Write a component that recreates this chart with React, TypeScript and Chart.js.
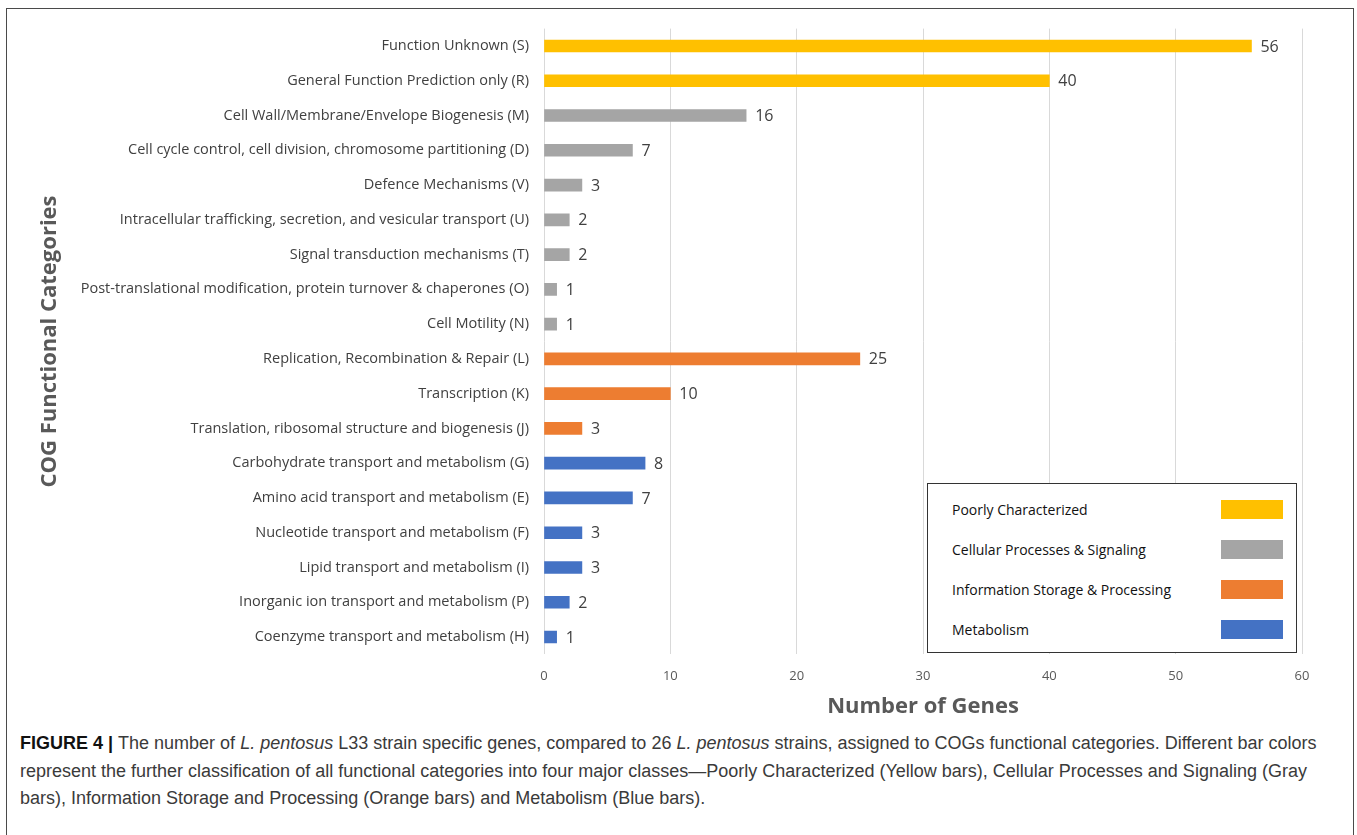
import React, { useEffect, useRef } from "react";
import { Chart, registerables } from "chart.js";

Chart.register(...registerables);

// COG functional categories, top to bottom
const categories = [
  "Function Unknown (S)",
  "General Function Prediction only (R)",
  "Cell Wall/Membrane/Envelope Biogenesis (M)",
  "Cell cycle control, cell division, chromosome partitioning (D)",
  "Defence Mechanisms (V)",
  "Intracellular trafficking, secretion, and vesicular transport (U)",
  "Signal transduction mechanisms (T)",
  "Post-translational modification, protein turnover & chaperones (O)",
  "Cell Motility (N)",
  "Replication, Recombination & Repair (L)",
  "Transcription (K)",
  "Translation, ribosomal structure and biogenesis (J)",
  "Carbohydrate transport and metabolism (G)",
  "Amino acid transport and metabolism (E)",
  "Nucleotide transport and metabolism (F)",
  "Lipid transport and metabolism (I)",
  "Inorganic ion transport and metabolism (P)",
  "Coenzyme transport and metabolism (H)",
];

// Number of strain specific genes in each category
const geneCounts = [56, 40, 16, 7, 3, 2, 2, 1, 1, 25, 10, 3, 8, 7, 3, 3, 2, 1];

// Major class of each category (index into classNames / classColors)
const classOf = [0, 0, 1, 1, 1, 1, 1, 1, 1, 2, 2, 2, 3, 3, 3, 3, 3, 3];

const classNames = [
  "Poorly Characterized",
  "Cellular Processes & Signaling",
  "Information Storage & Processing",
  "Metabolism",
];
const classColors = ["#FFC000", "#A5A5A5", "#ED7D31", "#4472C4"];

const xTicks = [0, 10, 20, 30, 40, 50, 60];

const valueLabels = {
  id: "valueLabels",
  afterDatasetsDraw(chart: any) {
    const ctx = chart.ctx;
    const meta = chart.getDatasetMeta(0);
    ctx.save();
    ctx.font = "16px 'Open Sans'";
    ctx.fillStyle = "#404040";
    ctx.textAlign = "left";
    ctx.textBaseline = "middle";
    meta.data.forEach((bar: any, i: number) => {
      ctx.fillText(String(chart.data.datasets[0].data[i]), bar.x + 9, bar.y + 1);
    });
    ctx.restore();
  },
};

function GeneChart() {
  const canvasRef = useRef<HTMLCanvasElement | null>(null);

  useEffect(() => {
    const canvas = canvasRef.current;
    if (!canvas) return;
    const chart = new Chart(canvas, {
      type: "bar",
      data: {
        labels: categories,
        datasets: [
          {
            data: geneCounts,
            backgroundColor: classOf.map((c) => classColors[c]),
            barThickness: 12,
          },
        ],
      },
      options: {
        indexAxis: "y",
        responsive: false,
        animation: false,
        layout: { padding: { left: 30, top: 28.6, right: 55, bottom: 0 } },
        plugins: {
          legend: { display: false },
          tooltip: { enabled: false },
        },
        scales: {
          x: {
            min: 0,
            max: 60,
            afterBuildTicks: (scale: any) => {
              scale.ticks = xTicks.map((v) => ({ value: v }));
            },
            afterFit: (scale: any) => {
              scale.height = 75.6;
            },
            grid: { color: "#D9D9D9", lineWidth: 1, drawTicks: false },
            border: { display: false },
            ticks: {
              color: "#595959",
              font: { family: "'Open Sans'", size: 13 },
              padding: 14,
            },
            title: {
              display: true,
              text: "Number of Genes",
              color: "#595959",
              font: { family: "'Open Sans'", size: 22, weight: "bold" },
              padding: { top: 0, bottom: 10 },
            },
          },
          y: {
            afterFit: (scale: any) => {
              scale.width = 514;
            },
            grid: { display: false, drawTicks: false },
            border: { display: false },
            ticks: {
              color: "#404040",
              font: { family: "'Open Sans'", size: 14.5 },
              padding: 15,
              autoSkip: false,
            },
            title: {
              display: true,
              text: "COG Functional Categories",
              color: "#595959",
              font: { family: "'Open Sans'", size: 22, weight: "bold" },
              padding: { top: 7, bottom: 0 },
            },
          },
        },
      },
      plugins: [valueLabels],
    });
    return () => chart.destroy();
  }, []);

  return (
    <canvas
      ref={canvasRef}
      width={1357}
      height={730}
      style={{ position: "absolute", left: 0, top: 0, width: 1357, height: 730 }}
    />
  );
}

function ClassKey() {
  return (
    <div
      style={{
        position: "absolute",
        left: 927,
        top: 483,
        width: 368,
        height: 168,
        border: "1.5px solid #333",
        background: "#fff",
        fontFamily: "'Open Sans'",
        fontSize: 14,
        color: "#111",
      }}
    >
      {classNames.map((name, i) => (
        <div
          key={name}
          style={{ position: "absolute", left: 0, top: 15 + i * 40, width: "100%", height: 22 }}
        >
          <span style={{ position: "absolute", left: 24, top: 0, lineHeight: "22px" }}>{name}</span>
          <span
            style={{
              position: "absolute",
              left: 293,
              top: 1,
              width: 62,
              height: 19,
              background: classColors[i],
            }}
          />
        </div>
      ))}
    </div>
  );
}

function Caption() {
  return (
    <div
      style={{
        position: "absolute",
        left: 20,
        top: 730,
        width: 1330,
        fontFamily: "'Liberation Sans'",
        fontSize: 18,
        lineHeight: "27.5px",
        color: "#3a3a3a",
        whiteSpace: "nowrap",
      }}
    >
      <b style={{ color: "#111" }}>FIGURE 4 | </b>The number of <i>L. pentosus</i> L33 strain specific
      genes, compared to 26 <i>L. pentosus</i> strains, assigned to COGs functional categories. Different
      bar colors
      <br />
      represent the further classification of all functional categories into four major classes—Poorly
      Characterized (Yellow bars), Cellular Processes and Signaling (Gray
      <br />
      bars), Information Storage and Processing (Orange bars) and Metabolism (Blue bars).
    </div>
  );
}

export default function App() {
  return (
    <div
      style={{
        position: "absolute",
        left: 0,
        top: 0,
        width: 1357,
        height: 835,
        overflow: "hidden",
        background: "#fff",
      }}
    >
      <div
        style={{
          position: "absolute",
          left: 6,
          top: 8,
          width: 1346,
          height: 900,
          border: "1.5px solid #4a4a4a",
        }}
      />
      <GeneChart />
      <ClassKey />
      <Caption />
    </div>
  );
}
